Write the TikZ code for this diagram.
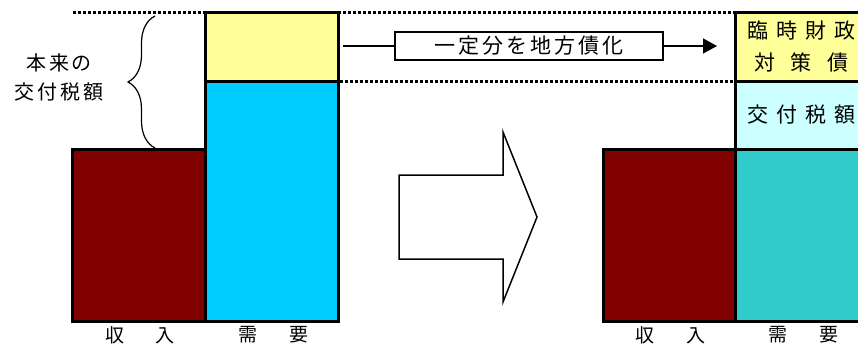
\documentclass[tikz,border=0pt]{standalone}
\usepackage{fontspec}
\setmainfont{Noto Sans CJK JP}
\usetikzlibrary{arrows.meta,decorations.pathreplacing}
\definecolor{income}{HTML}{800000}
\definecolor{need}{HTML}{00CCFF}
\definecolor{neednew}{HTML}{33CCCC}
\definecolor{bond}{HTML}{FFFF99}
\definecolor{grant}{HTML}{CCFFFF}
\tikzstyle{bar} = [draw, line width=3pt, inner sep=0pt, outer sep=0pt, anchor=north west, align=center]
\tikzstyle{sep} = [line width=3pt, dash pattern=on 3pt off 2pt]
\tikzstyle{thin} = [line width=1.5pt]
\tikzstyle{axis} = [inner sep=0pt, font=\fontsize{19}{19}\selectfont]

\begin{document}
\begin{tikzpicture}[x=1pt,y=-1pt]
      \useasboundingbox    (0,0) rectangle (858,345);
      % dotted guide lines
      \draw[sep]           (73,13) -- (735,13);
      \draw[sep]           (340,81) -- (735,81);
      % before
      \node[bar, fill=income, minimum width=133pt, minimum height=172pt] (inL)    at (72,149) {};
      \node[bar, fill=need,   minimum width=133pt, minimum height=240pt] (needL)  at (205,81) {};
      \node[bar, fill=bond,   minimum width=133pt, minimum height=68pt]  (bondL)  at (205,13) {};
      \draw[decorate, decoration={brace, amplitude=27pt}, line width=1.2pt] (155,148) -- (155,16);
      \node[align=center, inner sep=0pt, font=\fontsize{20}{29}\selectfont\addfontfeatures{LetterSpace=14}] (orig) at (59,77) {本来の\\交付税額};
      \node[axis] (inLlbl)   at (140,335) {収\hspace{32pt}入};
      \node[axis] (needLlbl) at (273,335) {需\hspace{32pt}要};
      % after
      \node[bar, fill=income,  minimum width=132pt, minimum height=172pt] (inR)    at (603,149) {};
      \node[bar, fill=neednew, minimum width=133pt, minimum height=172pt] (needR)  at (735,149) {};
      \node[bar, fill=grant,   minimum width=133pt, minimum height=68pt,
            font=\fontsize{21}{21}\selectfont\addfontfeatures{LetterSpace=38}] (grantR) at (735,81) {交付税額};
      \node[bar, fill=bond,    minimum width=133pt, minimum height=68pt,
            font=\fontsize{21}{32}\selectfont] (bondR)  at (735,13)
            {{\addfontfeatures{LetterSpace=38}臨時財政}\\{\addfontfeatures{LetterSpace=76}対策債}};
      \node[axis] (inRlbl)   at (670,335) {収\hspace{32pt}入};
      \node[axis] (needRlbl) at (803,335) {需\hspace{32pt}要};
      % shift to bonds
      \coordinate (from)   at (343,46);
      \coordinate (to)     at (717,46);
      \node[draw, thin, inner sep=0pt, minimum width=268pt, minimum height=28pt,
            font=\fontsize{21}{21}\selectfont\addfontfeatures{LetterSpace=14}] (move) at (529,46) {一定分を地方債化};
      \draw[thin]          (from) -- (move);
      \draw[thin, -{Triangle[length=14pt,width=15pt]}] (move) -- (to);
      % big arrow
      \draw[thin, fill=white] (399,175) -- (503,175) -- (503,132) -- (537,217)
            -- (503,302) -- (503,259) -- (399,259) -- cycle;
\end{tikzpicture}
\end{document}
